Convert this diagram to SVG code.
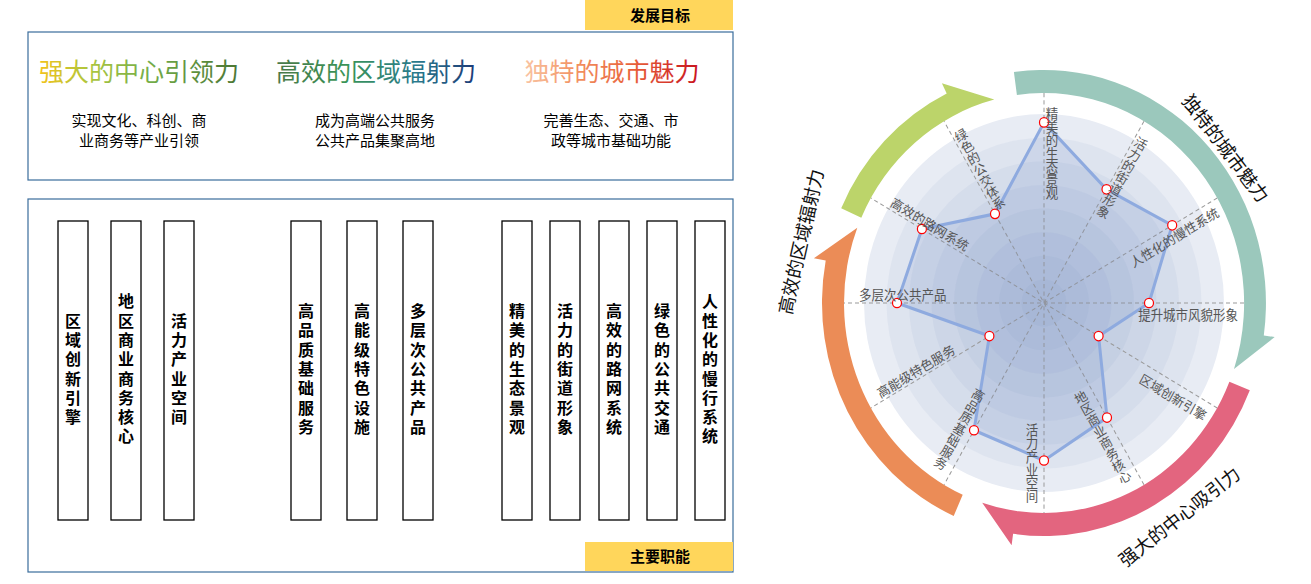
<svg xmlns="http://www.w3.org/2000/svg" width="1311" height="584" viewBox="0 0 1311 584">
<defs>
<style>
.frame{fill:none;stroke:#3a6d9c;stroke-width:1.2}
.tag{fill:#ffd65b}
.tagt{font-family:"Noto Sans CJK SC",sans-serif;font-weight:bold;font-size:15px;fill:#000;text-anchor:middle}
.title{font-family:"Noto Sans CJK SC",sans-serif;font-size:25px;text-anchor:middle}
.sub{font-family:"Noto Sans CJK SC",sans-serif;font-size:15px;fill:#000;text-anchor:middle}
.vbox{fill:#fff;stroke:#000;stroke-width:1.3}
.vt{font-family:"Noto Sans CJK SC",sans-serif;font-weight:bold;font-size:16px;fill:#000;writing-mode:vertical-rl;text-anchor:middle;letter-spacing:3.3px}
.ring{fill:#6f8bbb;fill-opacity:0.08}
.ax{stroke:#9a9a9a;stroke-width:1;stroke-dasharray:4 3;fill:none}
.al{font-family:"Noto Sans CJK SC",sans-serif;font-size:12.5px;fill:#555}
.alv{font-family:"Noto Sans CJK SC",sans-serif;font-size:12.5px;fill:#555;writing-mode:vertical-rl}
.pt{fill:#fff;stroke:#f00;stroke-width:1.2}
.arcl{font-family:"Noto Sans CJK SC",sans-serif;font-size:18.5px;fill:#111;text-anchor:middle}
</style>
<linearGradient id="g1" x1="0" y1="0" x2="1" y2="0">
<stop offset="0" stop-color="#f2c21c"/><stop offset="0.25" stop-color="#aec63e"/><stop offset="0.55" stop-color="#74ad48"/><stop offset="1" stop-color="#4c7634"/>
</linearGradient>
<linearGradient id="g2" x1="0" y1="0" x2="1" y2="0">
<stop offset="0" stop-color="#4a7848"/><stop offset="0.35" stop-color="#3a9458"/><stop offset="0.7" stop-color="#2a7a8c"/><stop offset="1" stop-color="#1d3a78"/>
</linearGradient>
<linearGradient id="g3" x1="0" y1="0" x2="1" y2="0">
<stop offset="0" stop-color="#f9c4a2"/><stop offset="0.3" stop-color="#f29060"/><stop offset="0.62" stop-color="#e8603a"/><stop offset="1" stop-color="#c8141e"/>
</linearGradient>
</defs>

<g id="goals">
<rect class="frame" x="28" y="32" width="705" height="148"/>
<rect class="tag" x="585" y="0" width="148" height="30"/>
<text class="tagt" x="660" y="21">发展目标</text>
<text class="title" x="139" y="81" fill="url(#g1)">强大的中心引领力</text>
<text class="title" x="376" y="81" fill="url(#g2)">高效的区域辐射力</text>
<text class="title" x="612" y="81" fill="url(#g3)">独特的城市魅力</text>
<text class="sub" x="139" y="126">实现文化、科创、商</text>
<text class="sub" x="139" y="146">业商务等产业引领</text>
<text class="sub" x="375" y="126">成为高端公共服务</text>
<text class="sub" x="375" y="146">公共产品集聚高地</text>
<text class="sub" x="611" y="126">完善生态、交通、市</text>
<text class="sub" x="611" y="146">政等城市基础功能</text>
</g>

<g id="functions">
<rect class="frame" x="28" y="199" width="705" height="373"/>
<rect class="tag" x="585" y="542" width="148" height="29"/>
<text class="tagt" x="660" y="562">主要职能</text>
</g>
<g id="f1"><rect class="vbox" x="58" y="221" width="30" height="299"/><text class="vt" x="73" y="370.5">区域创新引擎</text></g>
<g id="f2"><rect class="vbox" x="111" y="221" width="30" height="299"/><text class="vt" x="126" y="370.5">地区商业商务核心</text></g>
<g id="f3"><rect class="vbox" x="164" y="221" width="30" height="299"/><text class="vt" x="179" y="370.5">活力产业空间</text></g>
<g id="f4"><rect class="vbox" x="291" y="221" width="30" height="299"/><text class="vt" x="306" y="370.5">高品质基础服务</text></g>
<g id="f5"><rect class="vbox" x="347" y="221" width="30" height="299"/><text class="vt" x="362" y="370.5">高能级特色设施</text></g>
<g id="f6"><rect class="vbox" x="403" y="221" width="30" height="299"/><text class="vt" x="418" y="370.5">多层次公共产品</text></g>
<g id="f7"><rect class="vbox" x="502" y="221" width="30" height="299"/><text class="vt" x="517" y="370.5">精美的生态景观</text></g>
<g id="f8"><rect class="vbox" x="550" y="221" width="30" height="299"/><text class="vt" x="565" y="370.5">活力的街道形象</text></g>
<g id="f9"><rect class="vbox" x="599" y="221" width="30" height="299"/><text class="vt" x="614" y="370.5">高效的路网系统</text></g>
<g id="f10"><rect class="vbox" x="647" y="221" width="30" height="299"/><text class="vt" x="662" y="370.5">绿色的公共交通</text></g>
<g id="f11"><rect class="vbox" x="695" y="221" width="30" height="299"/><text class="vt" x="710" y="370.5">人性化的慢行系统</text></g>

<g id="radar" transform="translate(1044,303) scale(1,1.05)">
<circle r="180" fill="#e8ecf4"/>
<circle class="ring" r="157.5"/>
<circle class="ring" r="135"/>
<circle class="ring" r="112.5"/>
<circle class="ring" r="90"/>
<circle class="ring" r="67.5"/>
<circle class="ring" r="45"/>
<circle class="ring" r="22.5"/>
<path class="ax" d="M0 -200L0 200M100 -173.2L-100 173.2M173.2 -100L-173.2 100M200 0L-200 0M173.2 100L-173.2 -100M100 173.2L-100 -173.2"/>
<polygon points="0,-172 62.5,-108.3 128.2,-74 105,0 54.6,31.5 63,109.1 0,150 -70,121.2 -54.6,31.5 -147,0 -122.1,-70.5 -49,-84.9" fill="#5d7fc4" fill-opacity="0.13" stroke="#8eaadf" stroke-width="3" stroke-linejoin="round"/>
<g id="points">
<circle class="pt" cx="0" cy="-172" r="4.5"/>
<circle class="pt" cx="62.5" cy="-108.3" r="4.5"/>
<circle class="pt" cx="128.2" cy="-74" r="4.5"/>
<circle class="pt" cx="105" cy="0" r="4.5"/>
<circle class="pt" cx="54.6" cy="31.5" r="4.5"/>
<circle class="pt" cx="63" cy="109.1" r="4.5"/>
<circle class="pt" cx="0" cy="150" r="4.5"/>
<circle class="pt" cx="-70" cy="121.2" r="4.5"/>
<circle class="pt" cx="-54.6" cy="31.5" r="4.5"/>
<circle class="pt" cx="-147" cy="0" r="4.5"/>
<circle class="pt" cx="-122.1" cy="-70.5" r="4.5"/>
<circle class="pt" cx="-49" cy="-84.9" r="4.5"/>
</g>
<g id="axis-labels">
<text class="alv" x="8" y="-186">精美的生态景观</text>
<text class="alv" x="8" y="-186" transform="rotate(30)">活力的街道形象</text>
<text class="alv" x="8" y="-186" transform="rotate(-30)">绿色的公交体系</text>
<text class="alv" x="-13" y="190" text-anchor="end" transform="rotate(-30)">地区商业商务核心</text>
<text class="alv" x="-12" y="190" text-anchor="end">活力产业空间</text>
<text class="alv" x="-13" y="190" text-anchor="end" transform="rotate(30)">高品质基础服务</text>
<text class="al" x="194" y="16" text-anchor="end" transform="rotate(-30)">人性化的慢性系统</text>
<text class="al" x="194" y="16" text-anchor="end">提升城市风貌形象</text>
<text class="al" x="194" y="18" text-anchor="end" transform="rotate(30)">区域创新引擎</text>
<text class="al" x="-187" y="-3" transform="rotate(-30)">高能级特色服务</text>
<text class="al" x="-185" y="-3">多层次公共产品</text>
<text class="al" x="-180" y="-3" transform="rotate(30)">高效的路网系统</text>
</g>
<g id="arrows">
<path id="arrow-teal" fill="#9bc8bc" d="M-30.1 -219.9A222 222 0 0 1 219.8 30.9L230.7 32.4L190 62.8A200 200 0 0 0 -27.1 -198.1Z"/>
<path id="arrow-pink" fill="#e3657f" d="M205.8 83.2A222 222 0 0 1 -30.9 219.8L-32.4 230.7L-61.8 190.2A200 200 0 0 0 185.4 74.9Z"/>
<path id="arrow-orange" fill="#eb8c57" d="M-90.3 202.8A222 222 0 0 1 -218.3 -40.4L-230.1 -42.6L-186.7 -71.7A200 200 0 0 0 -81.3 182.7Z"/>
<path id="arrow-green" fill="#bcd46a" d="M-202.8 -90.3A222 222 0 0 1 -97.3 -199.5L-102.1 -209.4L-49.7 -193.7A200 200 0 0 0 -182.7 -81.3Z"/>
</g>
</g>
<g id="arrow-labels">
<text class="arcl" transform="translate(1225.8,148.3) rotate(52.8)" y="7">独特的城市魅力</text>
<text class="arcl" transform="translate(1179.2,516.7) rotate(-38.2)" y="7">强大的中心吸引力</text>
<text class="arcl" transform="translate(800.8,241.7) rotate(-77.4)" y="7">高效的区域辐射力</text>
</g>
</svg>
